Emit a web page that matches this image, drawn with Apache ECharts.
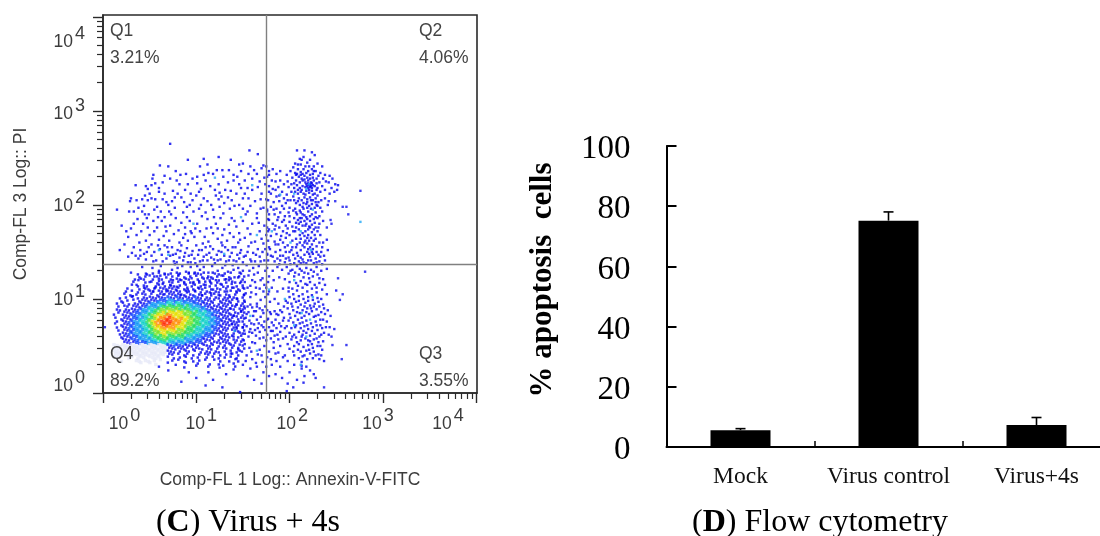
<!DOCTYPE html>
<html><head><meta charset="utf-8">
<style>html,body{margin:0;padding:0;background:#fff}#c{width:1100px;height:536px}</style>
<script src="https://cdn.jsdelivr.net/npm/echarts@6/dist/echarts.min.js"></script>
</head><body><div id="c"></div>
<script>
// Panel D values
const categories = ['Mock', 'Virus control', 'Virus+4s'];
const apoptosis = [5.6, 75.2, 7.3];
const apoptosisUpper = [6.1, 78.1, 9.8];

// Panel C: quadrant gate and labels
const gateX = 56.4, gateY = 23.6;
const quadrantLabels = [['Q1', '3.21%'], ['Q2', '4.06%'], ['Q3', '3.55%'], ['Q4', '89.2%']];
const decades = [1, 10, 100, 1000, 10000];
const xLabelAt = [1.7, 11.3, 107, 890, 5000];
const yLabelAt = [1.3, 10.7, 107, 1016, 5890];

// Panel C: single events, read as [FL1, FL3] in hundredths of a log decade
const dotsQ1 = [[72,265],[157,258],[166,254],[124,251],[108,249],[91,248],[137,248],[146,243],[150,244],[112,243],[104,241],[61,242],[70,241],[78,236],[54,232],[53,228],[35,221],[89,233],[122,237],[128,237],[135,237],[158,241],[172,242],[165,233],[156,233],[170,239],[175,241],[148,236],[140,232],[118,233],[108,232],[101,230],[96,228],[79,226],[72,228],[64,224],[56,223],[52,221],[48,217],[46,220],[82,222],[91,222],[101,223],[110,226],[115,220],[124,222],[129,230],[134,224],[140,226],[146,222],[152,226],[160,228],[168,225],[174,222],[178,232],
[30,207],[29,204],[36,205],[42,206],[45,210],[50,212],[48,205],[52,207],[56,206],[60,214],[66,212],[64,206],[68,203],[70,200],[74,204],[77,208],[80,212],[84,208],[87,203],[93,200],[96,205],[100,210],[103,214],[108,207],[105,200],[112,204],[116,200],[121,210],[125,213],[127,209],[124,206],[130,202],[134,208],[138,205],[143,212],[148,218],[152,212],[156,207],[160,216],[166,219],[170,212],[175,206],[178,214],[146,200],[150,196],[163,204],[172,197],[38,197],[33,193],[42,193],[49,190],[58,198],[62,193],[71,193],[86,192],[97,193],[110,192],[118,195],[129,191],[136,196],[141,199],[155,193],[165,191],[176,195],[15,195],[28,193],[44,199],
[25,172],[30,175],[37,185],[43,180],[47,186],[54,183],[58,176],[63,183],[66,187],[68,172],[72,178],[78,186],[84,181],[90,187],[88,176],[94,172],[101,180],[106,188],[112,185],[116,176],[121,180],[126,186],[130,174],[135,179],[138,186],[143,177],[146,170],[150,183],[155,175],[160,180],[165,186],[168,172],[173,178],[177,185],[36,168],[41,172],[46,162],[50,168],[55,172],[60,163],[65,167],[71,162],[76,169],[81,173],[86,165],[91,162],[95,170],[98,166],[104,172],[109,166],[113,161],[118,170],[123,164],[128,168],[133,162],[140,166],[145,160],[152,165],[158,169],[163,161],[170,164],[175,168],
[18,152],[23,158],[27,145],[31,149],[33,155],[35,146],[38,143],[40,152],[44,148],[46,142],[49,155],[52,146],[55,150],[57,141],[61,153],[63,147],[66,157],[68,143],[70,150],[72,146],[74,155],[76,140],[78,148],[80,152],[82,144],[84,157],[86,141],[88,149],[90,154],[92,146],[94,139],[96,151],[98,143],[100,157],[102,147],[104,140],[106,152],[108,145],[110,155],[112,141],[114,149],[116,144],[118,153],[120,138],[122,147],[124,151],[126,142],[128,157],[130,146],[132,140],[134,152],[136,145],[138,149],[140,141],[142,155],[144,147],[146,143],[148,152],[150,139],[153,146],[156,156],[158,142],[161,149],[163,140],[166,153],[168,145],[171,150],[173,141],[176,147],[178,155],
[20,178],[27,166],[33,180],[39,160],[48,176],[52,158],[59,187],[67,177],[73,190],[82,160],[88,169],[93,183],[99,175],[107,159],[111,175],[119,187],[123,175],[127,160],[136,170],[141,183],[147,163],[153,190],[159,160],[167,181],[172,159],[177,172],[60,218],[66,231],[75,215],[83,232],[88,216],[94,212],[105,217],[113,234],[120,216],[131,216],[137,215],[144,230],[155,218],[162,237],[169,206],[173,229],[40,146],[47,150],[54,140],[59,157],[64,140],[69,155],[75,147],[79,139],[83,151],[87,145],[91,139],[95,147],[99,138],[103,152],[107,141],[111,147],[115,156],[119,142],[123,141],[127,150],[131,155],[135,141],[139,155],[143,140],[147,149],[151,145],[155,150],[159,140],[164,147],[169,140],[174,153],[177,141],[45,190],[55,195],[77,197],[90,198],[103,196],[125,198],[150,207],[158,199],[169,196]];
const dotsQ2 = [[208,258],[216,258],[224,256],[227,253],[215,251],[211,249],[222,248],[206,244],[230,244],[235,241],[219,245],[212,243],[204,240],[226,241],[209,238],[215,238],[221,241],[228,236],[233,234],[238,232],[243,231],[246,228],[249,222],[252,221],[242,224],[236,228],[239,225],[231,231],[245,218],[248,214],[251,216],[243,212],[238,216],[235,220],[232,224],[229,228],[225,233],[218,234],[212,232],[206,234],[201,236],[197,232],[190,236],[186,233],[182,238],[178,236],[176,230],
[210,230],[213,228],[216,231],[219,229],[222,232],[225,229],[207,226],[211,224],[214,226],[217,224],[220,226],[223,224],[226,226],[229,223],[218,222],[220,223],[222,222],[224,223],[219,220],[221,221],[223,220],[225,221],[217,219],[220,218],[222,219],[224,218],[227,220],[230,218],[214,220],[211,218],[208,221],[205,218],[202,222],[199,219],[206,214],[209,212],[212,214],[215,212],[218,215],[221,213],[224,215],[227,212],[230,210],[233,214],[210,207],[213,205],[216,208],[219,206],[222,208],[225,205],[228,207],[231,203],[204,209],[201,205],[197,211],[194,207],[207,202],[211,200],[214,198],[218,201],[221,199],[224,201],[227,197],[230,199],[234,205],[238,207],[241,200],
[185,225],[182,217],[188,219],[192,214],[186,209],[180,212],[177,205],[183,203],[189,204],[192,199],[196,202],[200,197],[186,196],[180,198],[176,193],[184,190],[190,192],[195,188],[199,192],[204,194],[208,190],[212,192],[216,189],[220,193],[224,190],[228,192],[232,188],[235,193],[205,186],[209,184],[213,186],[216,183],[219,185],[222,183],[226,185],[210,180],[214,178],[218,180],[221,177],[224,179],[228,176],[232,180],[236,183],[200,182],[196,178],[192,182],[187,184],[182,180],[178,184],[176,176],[184,174],[189,176],[193,172],[198,175],[203,177],[206,172],[210,174],[214,170],[217,172],[220,168],[224,171],[227,168],[230,172],[233,168],[200,168],[196,165],[191,167],[186,169],[180,167],[177,162],[184,161],[188,158],[193,160],[198,157],[203,162],[207,164],[211,160],[214,157],[217,162],[219,159],[222,155],[224,158],[226,162],[229,156],[232,160],[235,155],[207,155],[202,152],[196,150],[190,152],[185,150],[179,153],[176,148],[182,145],[187,143],[193,146],[199,144],[204,147],[208,149],[212,144],[216,147],[219,150],[222,145],[225,148],[228,143],[231,147],[234,150],[237,146],[210,140],[205,138],[200,141],[195,139],[189,137],[184,140],[215,139],[220,141],[226,138],[232,140],[238,141],[241,152],[240,163],
[203,229],[207,232],[214,233],[220,236],[226,236],[202,214],[198,225],[194,222],[190,226],[185,216],[181,226],[178,220],[198,205],[194,196],[189,210],[183,195],[178,190],[188,187],[194,184],[200,188],[206,196],[211,194],[215,196],[219,197],[223,196],[229,200],[233,197],[207,181],[212,182],[217,178],[222,176],[227,181],[230,186],[204,172],[207,176],[211,168],[216,167],[219,165],[223,165],[228,164],[231,176],[197,170],[190,163],[185,178],[178,174],[203,155],[208,158],[212,152],[216,155],[220,153],[224,150],[229,150],[233,145],[236,160],[200,150],[195,155],[190,146],[185,158],[180,146],[212,138],[218,138],[223,141],[229,139],[235,137],[206,143],[201,137],[196,143],[190,141],
[213,248],[209,243],[217,241],[224,238],[208,233],[212,235],[216,227],[222,228],[205,223],[209,216],[213,216],[217,211],[221,216],[225,211],[229,216],[205,205],[209,204],[215,202],[219,203],[223,205],[228,203],[207,192],[214,190],[218,187],[222,188],[228,187],[211,186],[220,174],[226,174],[212,164],[216,160],[221,162],[225,153],[209,146],[214,142],[221,148]];
const dotsQ3 = [[176,133],[182,130],[187,134],[192,131],[197,134],[203,131],[208,135],[213,130],[218,133],[223,131],[229,134],[234,130],[240,132],[199,127],[205,124],[210,126],[215,123],[220,127],[225,124],[230,126],[236,121],[200,118],[195,121],[189,123],[183,120],[178,124],[207,117],[212,119],[217,116],[222,118],[227,115],[232,117],[203,111],[208,109],[214,112],[219,108],[224,111],[229,107],[199,108],[193,111],[187,108],[181,112],[177,105],[235,110],[240,105],[250,109],
[200,102],[205,100],[210,103],[215,100],[220,102],[225,99],[230,101],[196,98],[202,95],[207,97],[212,94],[217,96],[222,93],[227,95],[232,92],[198,90],[204,88],[209,91],[214,88],[219,90],[224,87],[229,89],[234,86],[238,84],[200,84],[206,82],[211,85],[216,82],[221,84],[226,81],[231,83],[236,78],[240,76],[194,80],[199,77],[204,75],[209,78],[214,75],[218,77],[223,74],[228,76],[233,72],[197,71],[202,69],[207,72],[212,69],[216,71],[220,68],[225,70],[230,67],[235,69],[242,62],[200,64],[205,62],[210,65],[214,62],[218,64],[222,61],[227,63],[232,60],[237,64],[196,60],[202,57],[207,59],[212,56],[217,58],[222,55],[226,57],[231,54],[236,55],[245,60],
[205,50],[210,52],[215,49],[220,51],[225,48],[230,50],[235,46],[200,47],[212,44],[218,45],[222,42],[226,44],[231,41],[205,40],[210,37],[214,39],[219,36],[225,37],[232,36],[237,34],[213,33],[213,29],[213,26],[205,30],[198,34],[193,38],[188,43],[218,28],[222,24],[226,20],[216,18],[228,16],[200,22],[208,14],[215,11],[190,28],
[152,90],[156,86],[160,91],[164,87],[168,90],[172,85],[176,88],[180,84],[184,87],[188,83],[192,86],[153,80],[157,77],[161,82],[165,78],[169,81],[173,76],[177,79],[181,75],[185,78],[189,74],[193,77],[154,71],[158,68],[162,73],[166,69],[170,72],[174,67],[178,70],[182,66],[186,69],[190,65],[152,63],[156,60],[160,64],[164,61],[168,65],[172,59],[176,62],[180,58],[184,61],[188,57],
[150,130],[156,125],[161,133],[166,128],[171,122],[152,118],[158,114],[163,118],[168,111],[173,115],[178,108],[153,106],[158,102],[164,105],[169,99],[174,102],[179,97],[184,100],[188,95],[152,97],[158,94],[165,95],[150,112],[146,124],[140,131],[135,120],[128,133],[120,127],[133,108],[60,130],[70,126],[80,133],[92,128],[104,131],[112,122],[97,118],[84,120],[72,115],[60,119],[50,125],[44,112],[54,108],[66,105],[78,110],[90,107],[102,112],[116,106],[126,116],[140,112],[144,100],[38,120],[32,103],
[152,52],[157,48],[163,53],[168,46],[173,50],[178,44],[183,48],[154,40],[160,36],[166,41],[171,33],[176,38],[181,30],[186,34],[150,30],[158,26],[165,28],[172,22],[178,18],[185,20],[192,16],[198,10],[204,6],[155,18],[162,14],[170,10],[147,1],[197,2],[140,25],[132,20],[125,27],[118,14],[110,8],[100,16],[92,22],[84,12],[128,6],[78,30],[70,24],[60,28],[113,22],
[30,128],[36,115],[42,134],[46,127],[50,118],[53,133],[56,112],[58,124],[62,135],[64,116],[66,127],[68,108],[74,131],[75,120],[77,137],[79,113],[81,126],[83,104],[85,135],[87,118],[89,129],[91,110],[94,134],[95,122],[98,127],[99,108],[101,135],[103,119],[105,126],[106,104],[108,134],[110,115],[113,128],[115,118],[117,135],[118,110],[121,120],[123,130],[124,104],[127,125],[129,113],[131,136],[132,121],[134,129],[136,102],[138,116],[139,136],[141,123],[143,108],[145,133],[147,117],[148,127],[151,104],[154,136],[155,112],[157,130],[159,107],[160,120],[162,126],[164,112],[167,135],[169,120],[172,108],[174,130],[175,112],[177,118],
[136,90],[140,82],[143,94],[146,76],[148,87],[150,70],[151,56],[154,84],[155,92],[157,65],[159,74],[160,54],[162,87],[163,67],[165,92],[167,74],[168,58],[171,88],[172,70],[174,92],[175,56],[176,78],[179,86],[180,66],[183,72],[183,54],[186,84],[187,62],[190,88],[191,71],[193,58],[194,92],[195,69],[140,60],[143,70],[138,73],[145,48],[149,44],[137,42],[142,36],[153,34],[159,44],[164,32],[170,40],[175,28],[180,36],[185,42],[190,50],[195,40],
[198,96],[203,92],[208,86],[213,80],[218,86],[223,90],[228,82],[233,78],[237,90],[201,80],[206,70],[211,74],[215,66],[219,72],[224,66],[229,72],[234,62],[239,70],[203,60],[208,54],[213,60],[220,56],[224,52],[229,58],[233,50],[198,52],[204,44],[209,46],[216,40],[221,46],[228,40],[234,40],[199,112],[204,105],[209,114],[214,105],[219,115],[224,104],[229,112],[234,100],[238,115],[201,130],[206,128],[211,132],[216,128],[221,122],[226,129],[232,122],[210,98],[216,92],[220,98],[226,92],[231,97],[236,94],[241,88],[244,82],[243,70],[248,68]];
const dotsFar = [[276,215],[263,190],[257,198],[261,198],[249,204],[242,204],[244,184],[245,180],[240,176],[261,51],[246,51],[256,36],[281,129],[252,122],[257,105],[254,99],[237,6],[2,70],[13,74]];
const dotsLight = [[276,182],[221,222],[218,217],[205,212],[190,211],[225,195],[212,172],[201,160],[223,152],[181,172],[160,221],[120,229],[148,187],[97,180],[70,147],[130,148],[165,168],[60,152],[213,85],[205,72],[222,78],[218,60],[158,82],[141,66],[165,45],[212,30],[178,110],[205,120],[225,102],[195,100]];

// Panel C: density of the main population, cell by cell ('.' empty, 1-9 rising density, p paled under the Q4 label)
const densityRows = [
"...........1..1.1.1.1.1.11..1.11.1..1.1.1.1..1..",
"...........1.1..1.1.1.1.1.1.1.1.1.11.1.1.1..1.1.",
"..........1.11..1.11..1.11.11..1.1.11.1.1.1...1.",
".........1...1.1.1.1.11.1.1.11.1.1.1.1..1.11.1..",
".........1.1.11..11.1.11.1.1.11.11.1.1.1.1..1.1.",
".......1...1.11.1.11111.1.11.1.111.1.11.1.1.1.1.",
".......1.1.1.1.11.11.11111.11.1.1.11.11.1.1.11..",
"......1.1.1.11.1.111.111111.11.111.11.1.11.1..1.",
".....1.1.1.1.11111112211211111211.11.11.11.11.1.",
".....1.1.1.11111122223322322222121111.11111.1.1.",
"....1.1.1.111122333334434433332211111.11111.1.1.",
"....1.11.11112333345555555454333221111111.11.11.",
"....11.1111223344556666665655444332211111111.11.",
"....1.111122334456676777776665544433221111.1111.",
"...1..111223344567778887777665544433211111111.1.",
"...1.11112233455678899887877665544433221111.111.",
"....1.112233445678899998887766554443322111111.1.",
".....1112233445678899988877665554443321111111.1.",
"....1.112233344567788888777655544433221111.11.1.",
"....1.11223334456677777766655544433321111.111.1.",
".....1112233344556677666665554443322211111.1.11.",
".....11112233344555665555554433322211.11111.11..",
"......1112223333445555444443333221111.1111.11.1.",
"......1111222233334444333333222211.1111111.1.1..",
"...pppppppppppppppppp21222111111.1111.1.1.11.11.",
"...pppppppppppppppppp1111111.1111.11.1.11.1.1.1.",
"...pppppppppppppppppp111.1.11.1.1.11.11.1.1.11..",
"...ppp.ppppppppppppp.11.1.11.1.1.11.1.1.1.1.1...",
"...pp...pp.ppp.pppp..1.1.1.1.1.1..1.1.1.1.1.1...",
".....p....pp.pp.p.p...1.1.1..1.1.1..1.1..1..1...",
"............p..p.p...1.....1...1...1..1....1....",
"..........................1...1...1....1...1...."];
const densityOriginX = 0.021, densityOriginY = 1.28, densityStepX = 0.0321, densityStepY = 0.0319;
const levelColors = {p:'#e6e8f8','1':'#0000ee','2':'#0a40ff','3':'#0c96f5','4':'#0fd0c8','5':'#20dc60','6':'#7ae428','7':'#e6e000','8':'#ff8a00','9':'#ff2a00'};
const levelSizes = {p:3.4,'1':2.5,'2':3,'3':3.4,'4':3.4,'5':3.4,'6':3.4,'7':3.4,'8':3.4,'9':3.4};

const fromHundredths = p => [Math.pow(10, p[0] / 100), Math.pow(10, p[1] / 100)];
const densityData = [];
densityRows.forEach((row, r) => [...row].forEach((ch, c) => {
  if (ch === '.') return;
  // staggered cells, so that the rows of sparse cells do not read as a lattice
  densityData.push({
    value: [Math.pow(10, densityOriginX + (c + (r % 2) * 0.5) * densityStepX),
            Math.pow(10, densityOriginY - (r + (c % 3) * 0.3) * densityStepY)],
    symbolSize: levelSizes[ch],
    itemStyle: {color: levelColors[ch]}
  });
}));
const minorValues = [];
for (let d = 1; d < 10000; d *= 10) for (let m = 2; m < 10; m++) minorValues.push(d * m);

const sans = 'Liberation Sans', serif = 'Liberation Serif', grey = '#3c3c3c';
const supLabel = i => '{n|10}{s|' + i + '}';
const rich = {n:{fontFamily:sans,fontSize:17.5,color:grey,verticalAlign:'bottom',lineHeight:26},
              s:{fontFamily:sans,fontSize:18,color:grey,verticalAlign:'top',lineHeight:26,padding:[0,0,13,2]}};
const qPos = {Q1:[110,0],Q2:[419,0],Q3:[419,1],Q4:[110,1]};
const graphics = [];
quadrantLabels.forEach(q => {
  const p = qPos[q[0]], y0 = p[1] ? 354 : 31;
  graphics.push({type:'text',left:p[0],top:y0-9,z:20,style:{text:q[0],font:'17.5px "Liberation Sans"',fill:'#444'}});
  graphics.push({type:'text',left:p[0],top:y0+18,z:20,style:{text:q[1],font:'17.5px "Liberation Sans"',fill:'#444'}});
});
graphics.push({type:'text',x:248,y:523,z:20,style:{text:'({b|C}) Virus + 4s',font:'32px "Liberation Serif"',fill:'#000',align:'center',verticalAlign:'middle',rich:{b:{font:'bold 32px "Liberation Serif"',fill:'#000'}}}});
graphics.push({type:'text',x:820,y:523,z:20,style:{text:'({b|D}) Flow cytometry',font:'32px "Liberation Serif"',fill:'#000',align:'center',verticalAlign:'middle',rich:{b:{font:'bold 32px "Liberation Serif"',fill:'#000'}}}});
graphics.push({type:'text',x:543,y:280,rotation:Math.PI/2,z:20,style:{text:'% apoptosis  cells',font:'bold 31px "Liberation Serif"',fill:'#000',align:'center',verticalAlign:'middle'}});

const dotSeries = (name, dots, color, extra) => Object.assign({
  name, type:'scatter', xAxisIndex:0, yAxisIndex:0, symbol:'rect', symbolSize:2.4, silent:true,
  itemStyle:{color}, animation:false, data:dots.map(fromHundredths)
}, extra || {});

const chart = echarts.init(document.getElementById('c'));
chart.setOption({
  animation:false, backgroundColor:'#fff', graphic:graphics,
  grid:[
    {left:103,top:15,width:374,height:378,show:true,borderColor:'#2a2a2a',borderWidth:1.6,backgroundColor:'#fff',outerBoundsMode:'none'},
    {left:666.5,top:146,width:444,height:301,show:false,outerBoundsMode:'none'}
  ],
  xAxis:[
    {type:'log',logBase:10,gridIndex:0,min:1,max:Math.pow(10,4.01),position:'bottom',splitLine:{show:false},
     name:'Comp-FL 1 Log:: Annexin-V-FITC',nameLocation:'middle',nameGap:78,nameTextStyle:{fontFamily:sans,fontSize:17.5,color:grey},
     axisLine:{lineStyle:{color:'#2a2a2a',width:1.6}},
     axisTick:{show:true,length:10,customValues:decades,lineStyle:{color:'#2a2a2a',width:1.4}},
     axisLabel:{show:true,customValues:xLabelAt,margin:14,hideOverlap:false,showMinLabel:true,showMaxLabel:true,rich,
       formatter:(v,i)=>supLabel(xLabelAt.indexOf(v))}},
    {type:'log',logBase:10,gridIndex:0,min:1,max:Math.pow(10,4.01),position:'bottom',splitLine:{show:false},
     axisLine:{show:false},axisLabel:{show:false},
     axisTick:{show:true,length:6,customValues:minorValues,lineStyle:{color:'#2a2a2a',width:1.2}}},
    {type:'category',gridIndex:1,data:categories,axisLine:{lineStyle:{color:'#000',width:2}},
     axisTick:{show:true,inside:true,interval:0,length:6,lineStyle:{color:'#000',width:1.5}},
     axisLabel:{fontFamily:serif,fontSize:23.5,color:'#111',margin:18,interval:0,hideOverlap:false}}
  ],
  yAxis:[
    {type:'log',logBase:10,gridIndex:0,min:1,max:Math.pow(10,4.02),position:'left',splitLine:{show:false},
     name:'Comp-FL 3 Log:: PI',nameLocation:'middle',nameGap:73,nameRotate:90,nameTextStyle:{fontFamily:sans,fontSize:17.5,color:grey},
     axisLine:{lineStyle:{color:'#2a2a2a',width:1.6}},
     axisTick:{show:true,length:10,customValues:decades,lineStyle:{color:'#2a2a2a',width:1.4}},
     axisLabel:{show:true,customValues:yLabelAt,margin:18,hideOverlap:false,showMinLabel:true,showMaxLabel:true,rich,
       formatter:(v,i)=>supLabel(yLabelAt.indexOf(v))}},
    {type:'log',logBase:10,gridIndex:0,min:1,max:Math.pow(10,4.02),position:'left',splitLine:{show:false},
     axisLine:{show:false},axisLabel:{show:false},
     axisTick:{show:true,length:6,customValues:minorValues,lineStyle:{color:'#2a2a2a',width:1.2}}},
    {type:'value',gridIndex:1,min:0,max:100,interval:20,splitLine:{show:false},
     axisLine:{show:true,lineStyle:{color:'#000',width:2}},
     axisTick:{show:true,inside:true,length:10,lineStyle:{color:'#000',width:2}},
     axisLabel:{margin:36,formatter:'{d|{value}}',rich:{d:{fontFamily:serif,fontSize:33,color:'#000',padding:[7,0,0,0]}}}}
  ],
  series:[
    dotSeries('density', [], '#0000ee', {data:densityData, z:2}),
    dotSeries('Q1', dotsQ1, '#0000ee', {z:3, markLine:{silent:true,symbol:'none',animation:false,label:{show:false},
      lineStyle:{color:'#808080',width:1.4,type:'solid'},data:[{xAxis:gateX},{yAxis:gateY}]}}),
    dotSeries('Q2', dotsQ2, '#0000ee', {z:3}),
    dotSeries('Q3', dotsQ3, '#0000ee', {z:3}),
    dotSeries('far', dotsFar, '#1010ee', {z:3}),
    dotSeries('light', dotsLight, '#22a8f5', {z:3}),
    {type:'bar',xAxisIndex:2,yAxisIndex:2,data:apoptosis,barWidth:60,itemStyle:{color:'#000'},silent:true},
    {type:'custom',xAxisIndex:2,yAxisIndex:2,silent:true,z:3,
     data:apoptosis.map((v,i)=>[i,v,apoptosisUpper[i]]),
     encode:{x:0,y:[1,2]},
     renderItem:(params,api)=>{
       const lo=api.coord([api.value(0),api.value(1)]), hi=api.coord([api.value(0),api.value(2)]);
       const st={stroke:'#000',lineWidth:1.6};
       return {type:'group',children:[
         {type:'line',shape:{x1:lo[0],y1:lo[1],x2:hi[0],y2:hi[1]},style:st},
         {type:'line',shape:{x1:hi[0]-5,y1:hi[1],x2:hi[0]+5,y2:hi[1]},style:st}]};
     }}
  ]
});
</script></body></html>
